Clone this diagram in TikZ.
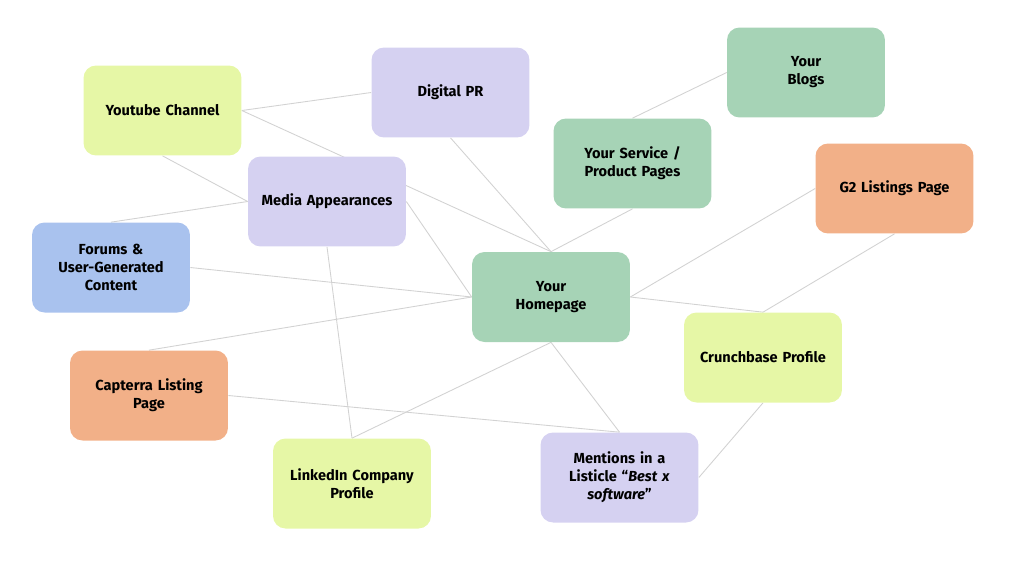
\documentclass[tikz,border=0pt]{standalone}
\usepackage{fontspec}
\setmainfont{Fira Sans}
\usetikzlibrary{backgrounds}

\definecolor{hubgreen}{HTML}{A6D3B6}
\definecolor{hublime}{HTML}{E6F7A6}
\definecolor{hublilac}{HTML}{D5D1F1}
\definecolor{huborange}{HTML}{F2B088}
\definecolor{hubblue}{HTML}{A9C2EE}
\definecolor{hubline}{HTML}{D2D2D2}

\begin{document}
\begin{tikzpicture}[
  x=0.02cm, y=-0.02cm,
  hubbox/.style = {rounded corners=0.25cm, minimum width=3.16cm, minimum height=1.8cm,
    text width=2.9cm, align=center, inner sep=0pt,
    font=\fontsize{8.3}{10.3}\selectfont\bfseries},
  hubgreenbox/.style = {hubbox, fill=hubgreen},
  hublimebox/.style = {hubbox, fill=hublime},
  hublilacbox/.style = {hubbox, fill=hublilac},
  huborangebox/.style = {hubbox, fill=huborange},
  hubbluebox/.style = {hubbox, fill=hubblue},
  hublink/.style = {draw=hubline, line width=0.5pt}
]
  \useasboundingbox (0,0) rectangle (1024,569);
  % nodes
  \node[hublimebox] (youtube) at (162.5,110.5) {Youtube Channel};
  \node[hublilacbox] (digitalpr) at (450.5,92.5) {Digital PR};
  \node[hubgreenbox] (blogs) at (806,72.5) {Your\\Blogs};
  \node[hubgreenbox] (service) at (632.5,163.5) {Your Service /\\Product Pages};
  \node[huborangebox] (gtwo) at (894.5,188.5) {G2 Listings Page};
  \node[hublilacbox] (media) at (327,201.5) {Media Appearances};
  \node[hubbluebox] (forums) at (111,267.5) {Forums \&\\User-Generated\\Content};
  \node[hubgreenbox] (home) at (551,297) {Your\\Homepage};
  \node[hublimebox] (crunch) at (763,357.5) {Crunchbase Profile};
  \node[huborangebox] (capterra) at (149,395.5) {Capterra Listing\\Page};
  \node[hublimebox] (linkedin) at (352,483.5) {LinkedIn Company\\Profile};
  \node[hublilacbox] (listicle) at (619.5,477.5) {Mentions in a\\Listicle \textquotedblleft\textit{Best x}\\\textit{software}\textquotedblright};
  % links
  \begin{scope}[on background layer]
    \draw[hublink] (youtube.east) -- (digitalpr.west);
    \draw[hublink] (youtube.east) -- (home.north);
    \draw[hublink] (youtube.south) -- (media.west);
    \draw[hublink] (media.west) -- (forums.north);
    \draw[hublink] (digitalpr.south) -- (home.north);
    \draw[hublink] (service.south) -- (home.north);
    \draw[hublink] (blogs.west) -- (service.north);
    \draw[hublink] (media.east) -- (home.west);
    \draw[hublink] (forums.east) -- (home.west);
    \draw[hublink] (capterra.north) -- (home.west);
    \draw[hublink] (media.south) -- (linkedin.north);
    \draw[hublink] (linkedin.north) -- (home.south);
    \draw[hublink] (home.south) -- (listicle.north);
    \draw[hublink] (capterra.east) -- (listicle.north);
    \draw[hublink] (listicle.east) -- (crunch.south);
    \draw[hublink] (home.east) -- (crunch.north);
    \draw[hublink] (home.east) -- (gtwo.west);
    \draw[hublink] (gtwo.south) -- (crunch.north);
  \end{scope}
\end{tikzpicture}
\end{document}
